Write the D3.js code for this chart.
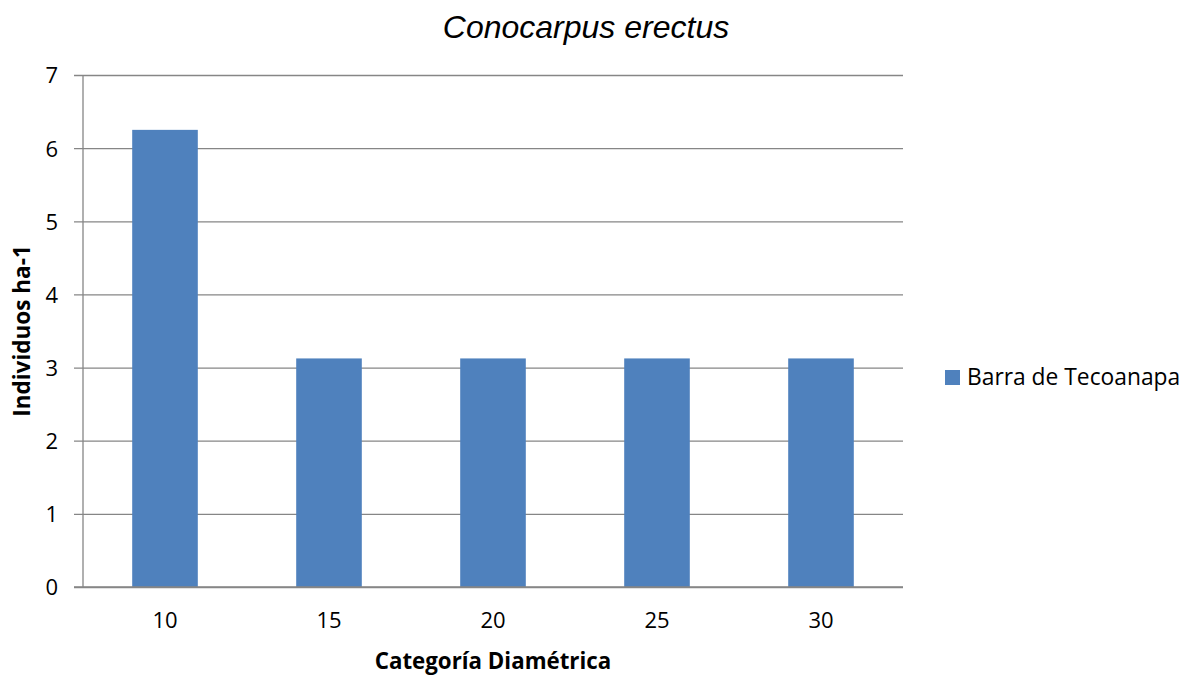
<!DOCTYPE html>
<html>
<head>
<meta charset="utf-8">
<script src="https://cdn.jsdelivr.net/npm/d3@7"></script>
<style>
  html, body { margin: 0; padding: 0; background: #fff; }
  svg { display: block; }
</style>
</head>
<body>
<script>
// Diameter classes and density of individuals per hectare
const categories = ["10", "15", "20", "25", "30"];
const values = [6.25, 3.125, 3.125, 3.125, 3.125];
const yTicks = [0, 1, 2, 3, 4, 5, 6, 7];
const seriesName = "Barra de Tecoanapa";

const W = 1190, H = 677;
const plot = { left: 83, right: 903, top: 75, bottom: 587 };
const font = "'Open Sans', 'Noto Sans', sans-serif";
const barColor = "#4F81BD";
const gridColor = "#868686";

const svg = d3.select("body").append("svg")
  .attr("width", W).attr("height", H);

const x = d3.scaleBand()
  .domain(categories)
  .range([plot.left, plot.right])
  .paddingInner(0.6)
  .paddingOuter(0.3);

const y = d3.scaleLinear()
  .domain([0, 7])
  .range([plot.bottom, plot.top]);

// Horizontal gridlines with short ticks to the left of the axis
const yAxis = d3.axisLeft(y)
  .tickValues(yTicks)
  .tickSize(-(plot.right - plot.left))
  .tickPadding(25)
  .tickFormat(d3.format("d"));

const gy = svg.append("g")
  .attr("transform", `translate(${plot.left},0)`)
  .call(yAxis);
gy.select(".domain").remove();
gy.selectAll(".tick line")
  .attr("x1", -9)
  .attr("stroke", gridColor)
  .attr("stroke-width", 1.3);
gy.selectAll(".tick text")
  .attr("font-family", font)
  .attr("font-size", 22)
  .attr("dy", "0.36em")
  .attr("fill", "#000");

// Vertical axis line
svg.append("line")
  .attr("x1", plot.left).attr("x2", plot.left)
  .attr("y1", plot.top).attr("y2", plot.bottom)
  .attr("stroke", gridColor)
  .attr("stroke-width", 1.3);

// Bars
svg.append("g").selectAll("rect")
  .data(values)
  .join("rect")
  .attr("x", (d, i) => x(categories[i]))
  .attr("width", x.bandwidth())
  .attr("y", d => y(d))
  .attr("height", d => y(0) - y(d))
  .attr("fill", barColor);

// Baseline drawn over bars
svg.append("line")
  .attr("x1", plot.left - 9).attr("x2", plot.right)
  .attr("y1", y(0)).attr("y2", y(0))
  .attr("stroke", gridColor)
  .attr("stroke-width", 1.3);

// Category labels
const xAxis = d3.axisBottom(x).tickSize(0).tickPadding(25);
const gx = svg.append("g")
  .attr("transform", `translate(0,${plot.bottom})`)
  .call(xAxis);
gx.select(".domain").remove();
gx.selectAll(".tick text")
  .attr("font-family", font)
  .attr("font-size", 22)
  .attr("fill", "#000");

// Title
svg.append("text")
  .attr("x", 586).attr("y", 38)
  .attr("text-anchor", "middle")
  .attr("font-family", "'Liberation Sans', Arial, sans-serif")
  .attr("font-style", "italic")
  .attr("font-size", 32)
  .attr("fill", "#000")
  .text("Conocarpus erectus");

// Axis titles
svg.append("text")
  .attr("x", (plot.left + plot.right) / 2).attr("y", 669)
  .attr("text-anchor", "middle")
  .attr("font-family", font)
  .attr("font-weight", "bold")
  .attr("font-size", 22.3)
  .attr("fill", "#000")
  .text("Categoría Diamétrica");

svg.append("text")
  .attr("transform", `translate(30,331) rotate(-90)`)
  .attr("text-anchor", "middle")
  .attr("font-family", font)
  .attr("font-weight", "bold")
  .attr("font-size", 22.5)
  .attr("fill", "#000")
  .text("Individuos ha-1");

// Legend
const lg = svg.append("g").attr("transform", "translate(945,370)");
lg.append("rect")
  .attr("width", 15).attr("height", 15)
  .attr("fill", barColor);
lg.append("text")
  .attr("x", 22).attr("y", 15)
  .attr("font-family", font)
  .attr("font-size", 22.8)
  .attr("fill", "#000")
  .text(seriesName);
</script>
</body>
</html>
